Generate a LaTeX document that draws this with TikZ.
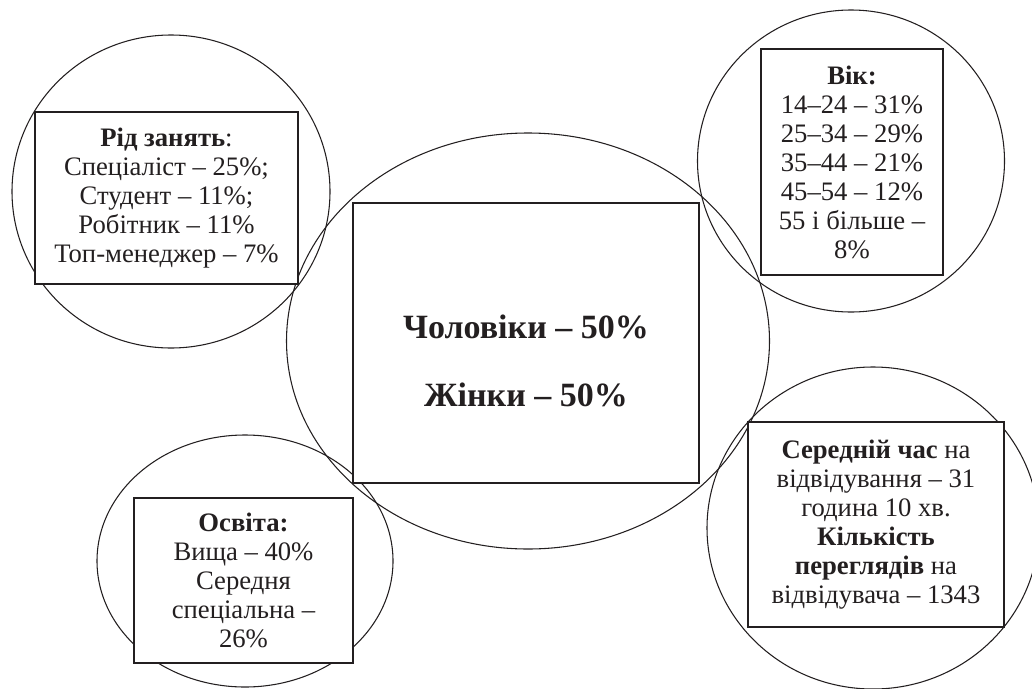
\documentclass[tikz,border=0pt]{standalone}
\usepackage{fontspec}
\setmainfont{Liberation Serif}
\usepackage{xcolor}
\usetikzlibrary{shapes.geometric}
\definecolor{ink}{HTML}{231F20}

\begin{document}
\begin{tikzpicture}[x=0.75pt,y=-0.75pt,color=ink,
                    zone/.style={ellipse,draw,line width=0.8pt,inner sep=0pt,outer sep=0pt},
                    box/.style={rectangle,draw,fill=white,line width=1pt,inner sep=0pt,align=center,
                                font=\fontsize{20pt}{21.75pt}\selectfont}]
      \useasboundingbox (0,0) rectangle (1032,689);

      \node[zone,minimum width=362.25pt,minimum height=312pt] (gender) at (528,341) {};
      \node[zone,minimum width=238.5pt,minimum height=234.75pt] (occupation) at (171,191.5) {};
      \node[zone,minimum width=230.25pt,minimum height=226.5pt] (age) at (851,161) {};
      \node[zone,minimum width=222pt,minimum height=189pt] (education) at (245,561) {};
      \node[zone,minimum width=249pt,minimum height=241.5pt] (visits) at (873,528) {};

      \node[box,minimum width=259.5pt,minimum height=210pt] (genderbox) at (526,343) {};
      \node[font=\fontsize{25.5pt}{28pt}\selectfont\bfseries,align=center] (gendertext) at (526,361)
           {Чоловіки – 50\%\\[23pt]Жінки – 50\%};

      \node[box,minimum width=197.25pt,minimum height=129pt] (occupationbox) at (166.5,198)
           {\textbf{Рід занять}:\\Спеціаліст – 25\%;\\Студент – 11\%;\\Робітник – 11\%\\Топ-менеджер – 7\%};
      \node[box,minimum width=136.5pt,minimum height=169.5pt] (agebox) at (852,162)
           {\textbf{Вік:}\\14–24 – 31\%\\25–34 – 29\%\\35–44 – 21\%\\45–54 – 12\%\\55 і більше –\\8\%};
      \node[box,minimum width=164.25pt,minimum height=123.75pt] (educationbox) at (243.5,580.5)
           {\textbf{Освіта:}\\Вища – 40\%\\Середня\\спеціальна –\\26\%};
      \node[box,minimum width=192pt,minimum height=153.75pt] (visitsbox) at (876,524.5)
           {\textbf{Середній час} на\\відвідування – 31\\година 10 хв.\\\textbf{Кількість}\\\textbf{переглядів} на\\відвідувача – 1343};

\end{tikzpicture}
\end{document}
